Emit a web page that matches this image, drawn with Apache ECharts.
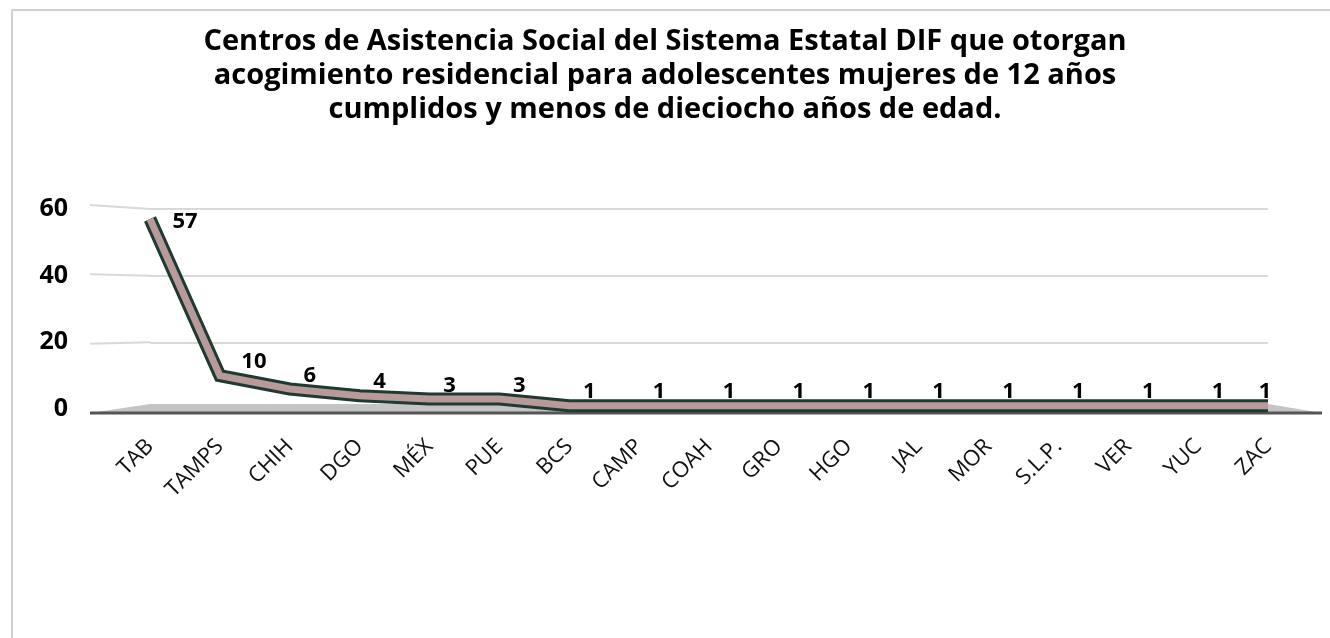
<!DOCTYPE html>
<html>
<head>
<meta charset="utf-8">
<script src="https://cdn.jsdelivr.net/npm/echarts@6/dist/echarts.min.js"></script>
<style>
  html, body { margin: 0; padding: 0; background: #ffffff; }
  #main { width: 1330px; height: 638px; }
</style>
</head>
<body>
<div id="main"></div>
<script>
const titleText = 'Centros de Asistencia Social del Sistema Estatal DIF que otorgan\nacogimiento residencial para adolescentes mujeres de 12 años\ncumplidos y menos de dieciocho años de edad.';
const categories = ['TAB', 'TAMPS', 'CHIH', 'DGO', 'MÉX', 'PUE', 'BCS', 'CAMP', 'COAH', 'GRO', 'HGO', 'JAL', 'MOR', 'S.L.P.', 'VER', 'YUC', 'ZAC'];
const values = [57, 10, 6, 4, 3, 3, 1, 1, 1, 1, 1, 1, 1, 1, 1, 1, 1];
const yTicks = [0, 20, 40, 60];

const chart = echarts.init(document.getElementById('main'), null, { renderer: 'canvas' });

const lastIndex = values.length - 1;
const labelData = values.map((v, i) => {
  if (i === 0) return { value: v, label: { position: 'right', distance: 22, offset: [0, 3] } };
  if (i === 1) return { value: v, label: { offset: [34, 0] } };
  if (i === lastIndex) return { value: v, label: { offset: [-3, 0] } };
  return v;
});

chart.setOption({
  animation: false,
  backgroundColor: '#ffffff',
  title: {
    text: titleText,
    left: 'center',
    top: 20,
    textStyle: {
      fontFamily: 'Open Sans',
      fontWeight: 'bold',
      fontSize: 29,
      lineHeight: 34,
      color: '#000000'
    }
  },
  grid: { left: 150, right: 62, top: 209, bottom: 229, containLabel: false },
  xAxis: {
    type: 'category',
    data: categories,
    boundaryGap: false,
    axisLine: { show: false },
    axisTick: { show: false },
    splitLine: { show: false },
    axisLabel: {
      rotate: 45,
      margin: 34,
      interval: 0,
      fontFamily: 'Open Sans',
      fontSize: 22,
      letterSpacing: 3,
      color: '#111111'
    }
  },
  yAxis: {
    type: 'value',
    min: 0,
    max: 60,
    interval: 20,
    axisLine: { show: false },
    axisTick: { show: false },
    splitLine: { show: true, lineStyle: { color: '#d9d9d9', width: 2 } },
    axisLabel: {
      margin: 82,
      fontFamily: 'Open Sans',
      fontWeight: 'bold',
      fontSize: 25,
      color: '#000000'
    }
  },
  series: [
    {
      type: 'line',
      data: values,
      symbol: 'none',
      z: 3,
      lineStyle: { color: '#1f3a31', width: 13, join: 'miter' },
      silent: true
    },
    {
      type: 'line',
      data: labelData,
      symbol: 'circle',
      symbolSize: 1,
      showSymbol: true,
      itemStyle: { color: 'rgba(0,0,0,0)' },
      z: 4,
      lineStyle: { color: '#b89a9a', width: 7, join: 'miter' },
      label: {
        show: true,
        position: 'top',
        distance: 2,
        offset: [20, 0],
        fontFamily: 'Open Sans',
        fontWeight: 'bold',
        fontSize: 22,
        color: '#000000'
      }
    }
  ]
});

// Decorative 3D-like floor and slanted gridline extensions derived from the axis scale
function decorate() {
  const y0 = chart.convertToPixel({ yAxisIndex: 0 }, 0);
  const yMid = chart.convertToPixel({ yAxisIndex: 0 }, 30);
  const xFirst = chart.convertToPixel({ xAxisIndex: 0 }, 0);
  const xLast = chart.convertToPixel({ xAxisIndex: 0 }, categories.length - 1);
  const graphics = [
    {
      type: 'rect',
      shape: { x: 12, y: 10, width: 1400, height: 800 },
      style: { fill: 'none', stroke: '#d0d0d0', lineWidth: 2 },
      silent: true, z: -10
    },
    {
      type: 'polygon',
      shape: { points: [[90, y0 + 4], [xFirst, y0 - 5], [xLast, y0 - 5], [xLast + 54, y0 + 4]] },
      style: { fill: '#c4c4c4' },
      silent: true, z: 0
    },
    {
      type: 'line',
      shape: { x1: 90, y1: y0 + 4, x2: xLast + 54, y2: y0 + 4 },
      style: { stroke: '#555555', lineWidth: 3 },
      silent: true, z: 1
    }
  ];
  yTicks.filter(t => t > 0).forEach(t => {
    const yb = chart.convertToPixel({ yAxisIndex: 0 }, t);
    const yf = yMid + (yb - yMid) * 1.04;
    graphics.push({
      type: 'line',
      shape: { x1: 90, y1: yf, x2: xFirst, y2: yb },
      style: { stroke: '#d9d9d9', lineWidth: 2 },
      silent: true, z: 0
    });
  });
  chart.setOption({ graphic: graphics });
}
decorate();
</script>
</body>
</html>
